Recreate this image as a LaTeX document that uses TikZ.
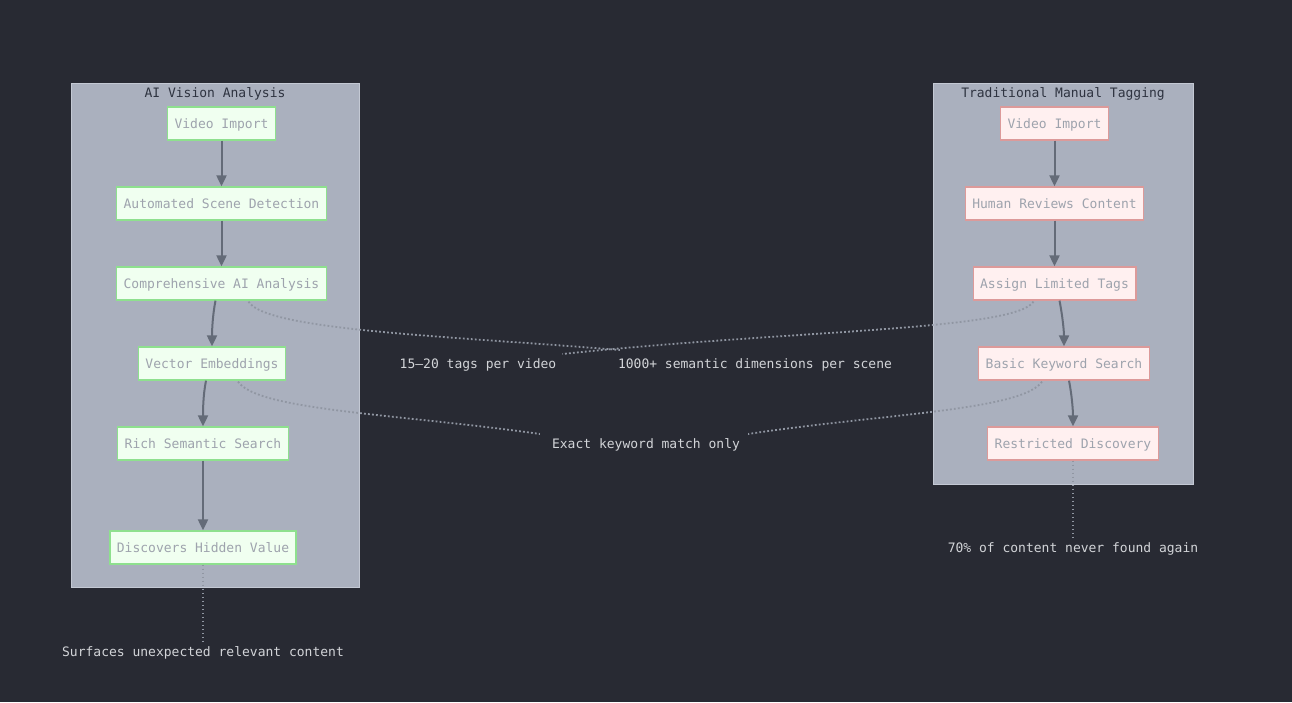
\documentclass[tikz,border=0pt]{standalone}
\usepackage{fontspec}
\setmonofont{DejaVu Sans Mono}
\usetikzlibrary{arrows.meta,calc}
\definecolor{bg}{HTML}{282A33}
\definecolor{clfill}{HTML}{AAB0BE}
\definecolor{clline}{HTML}{C4C9D4}
\definecolor{cltext}{HTML}{2E3340}
\definecolor{gfill}{HTML}{F0FFF0}
\definecolor{gline}{HTML}{8EE08E}
\definecolor{rfill}{HTML}{FFF0F0}
\definecolor{rline}{HTML}{DC9A9A}
\definecolor{ntext}{HTML}{9EA3AD}
\definecolor{arr}{HTML}{646B78}
\definecolor{dotc}{HTML}{9096A2}
\definecolor{lbl}{HTML}{D2D4D8}
\tikzset{
  every node/.style={font=\ttfamily\fontsize{13}{15}\selectfont},
  cluster/.style={draw=clline, fill=clfill, line width=0.8pt},
  boxbase/.style={text=ntext, line width=1.3pt, minimum height=33pt, inner xsep=7pt, inner ysep=0pt, text depth=-1.5pt},
  gbox/.style={boxbase, draw=gline, fill=gfill},
  rbox/.style={boxbase, draw=rline, fill=rfill},
  title/.style={text=cltext},
  lab/.style={text=lbl, inner sep=2pt},
  flow/.style={draw=arr, line width=2pt, -{Triangle[width=10pt,length=11pt]}},
  note/.style={draw=dotc, line width=1.8pt, dash pattern=on 1.8pt off 2.2pt},
}
\begin{document}
\begin{tikzpicture}[x=1pt,y=-1pt]
\fill[bg] (0,0) rectangle (1292,702);
\useasboundingbox (0,0) rectangle (1292,702);
% clusters
\draw[cluster] (71,83) rectangle (359,587);
\draw[cluster] (933,83) rectangle (1193,484);
\node[title] (t1) at (215,93.5) {AI Vision Analysis};
\node[title] (t2) at (1063,93.5) {Traditional Manual Tagging};
% left nodes
\node[gbox] (a1) at (221.5,123.5) {Video Import};
\node[gbox] (a2) at (221.5,203.5) {Automated Scene Detection};
\node[gbox] (a3) at (221.5,283.5) {Comprehensive AI Analysis};
\node[gbox] (a4) at (212,363.5) {Vector Embeddings};
\node[gbox] (a5) at (203,443.5) {Rich Semantic Search};
\node[gbox] (a6) at (203,547.5) {Discovers Hidden Value};
% right nodes
\node[rbox] (b1) at (1054.5,123.5) {Video Import};
\node[rbox] (b2) at (1054.5,203.5) {Human Reviews Content};
\node[rbox] (b3) at (1054.5,283.5) {Assign Limited Tags};
\node[rbox] (b4) at (1064,363.5) {Basic Keyword Search};
\node[rbox] (b5) at (1073,443.5) {Restricted Discovery};
% labels
\node[lab] (l1) at (478,364.5) {15–20 tags per video};
\node[lab] (l2) at (755,364.5) {1000+ semantic dimensions per scene};
\node[lab] (l3) at (646,444.5) {Exact keyword match only};
\node[lab] (l4) at (203,652.5) {Surfaces unexpected relevant content};
\node[lab] (l5) at (1073,548.5) {70\% of content never found again};
% flows
\draw[flow] (a1) -- (a2);
\draw[flow] (a2) -- (a3);
\draw[flow] ($(a3.south)+(-6,0)$) .. controls ($(a3.south)+(-9,15)$) and ($(a4.north)+(0,-15)$) .. (a4.north);
\draw[flow] ($(a4.south)+(-6,0)$) .. controls ($(a4.south)+(-9,15)$) and ($(a5.north)+(0,-15)$) .. (a5.north);
\draw[flow] (a5) -- (a6);
\draw[flow] (b1) -- (b2);
\draw[flow] (b2) -- (b3);
\draw[flow] ($(b3.south)+(5,0)$) .. controls ($(b3.south)+(8,15)$) and ($(b4.north)+(0,-15)$) .. (b4.north);
\draw[flow] ($(b4.south)+(5,0)$) .. controls ($(b4.south)+(8,15)$) and ($(b5.north)+(0,-15)$) .. (b5.north);
% notes
\draw[note] ($(a3.south)+(27,1)$) .. controls ($(a3.south)+(45,30)$) and (450,336) .. ($(l2.north west)+(4,-6)$);
\draw[note] ($(b3.south)+(-21,1)$) .. controls ($(b3.south)+(-40,30)$) and (790,330) .. ($(l1.north east)+(4,-2)$);
\draw[note] ($(a4.south)+(26,1)$) .. controls ($(a4.south)+(46,30)$) and (400,414) .. ($(l3.north west)+(-10,-2)$);
\draw[note] ($(b4.south)+(-22,1)$) .. controls ($(b4.south)+(-42,30)$) and (880,414) .. ($(l3.north east)+(6,-2)$);
\draw[note] (a6.south) -- (l4.north);
\draw[note] (b5.south) -- (l5.north);
\end{tikzpicture}
\end{document}
